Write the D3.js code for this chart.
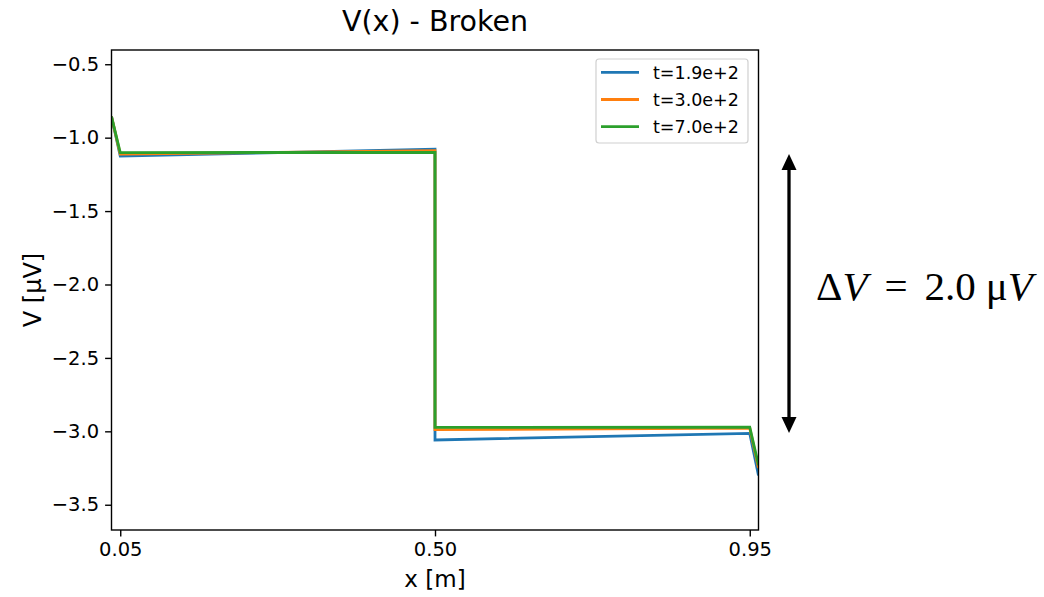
<!DOCTYPE html>
<html>
<head>
<meta charset="utf-8">
<script src="https://cdn.jsdelivr.net/npm/d3@7"></script>
<style>
  html, body { margin: 0; padding: 0; background: #fff; }
  svg { display: block; }
</style>
</head>
<body>
<svg id="chart" width="1044" height="597"></svg>
<script>
// ---- data ----
const xPositions = [0.0375, 0.05, 0.5, 0.5, 0.95, 0.9625];
const seriesNames = ["t=1.9e+2", "t=3.0e+2", "t=7.0e+2"];
const seriesBlue   = [-0.857, -1.125, -1.079, -3.059, -3.014, -3.30];
const seriesOrange = [-0.857, -1.112, -1.089, -2.989, -2.978, -3.25];
const seriesGreen  = [-0.857, -1.102, -1.100, -2.973, -2.972, -3.23];
const seriesColors = ["#1f77b4", "#ff7f0e", "#2ca02c"];
const xTicks = [0.05, 0.50, 0.95];
const yTicks = [-0.5, -1.0, -1.5, -2.0, -2.5, -3.0, -3.5];
const xDomain = [0.0375, 0.9625];
const yDomain = [-3.672, -0.403];
const titleText = "V(x) - Broken";
const xLabel = "x [m]";
const yLabel = "V [\u03bcV]";
const annotationValue = "2.0";

const SANS = "'DejaVu Sans', sans-serif";
const SERIF = "'Liberation Serif', 'DejaVu Serif', serif";

const svg = d3.select("#chart");
const plot = {left: 111.5, right: 758.5, top: 50, bottom: 530};

const x = d3.scaleLinear().domain(xDomain).range([plot.left, plot.right]);
const y = d3.scaleLinear().domain(yDomain).range([plot.bottom, plot.top]);

const allSeries = [seriesBlue, seriesOrange, seriesGreen];

svg.append("clipPath").attr("id", "clip").append("rect")
  .attr("x", plot.left).attr("y", plot.top)
  .attr("width", plot.right - plot.left).attr("height", plot.bottom - plot.top);

const line = d3.line().x((d, i) => x(xPositions[i])).y(d => y(d));

svg.append("g").attr("clip-path", "url(#clip)")
  .selectAll("path").data(allSeries).join("path")
  .attr("d", d => line(d))
  .attr("fill", "none")
  .attr("stroke", (d, i) => seriesColors[i])
  .attr("stroke-width", 2.8)
  .attr("stroke-linejoin", "miter")
  .attr("stroke-linecap", "butt");

svg.append("rect")
  .attr("x", plot.left).attr("y", plot.top)
  .attr("width", plot.right - plot.left).attr("height", plot.bottom - plot.top)
  .attr("fill", "none").attr("stroke", "#000").attr("stroke-width", 1.4);

const fmtY = v => d3.format(".1f")(v).replace("-", "\u2212");
const yAxis = d3.axisLeft(y).tickValues(yTicks).tickFormat(fmtY).tickSize(6.4).tickPadding(6);
const xAxis = d3.axisBottom(x).tickValues(xTicks).tickFormat(d3.format(".2f")).tickSize(6.4).tickPadding(6);

const gy = svg.append("g").attr("transform", `translate(${plot.left},0)`).call(yAxis);
const gx = svg.append("g").attr("transform", `translate(0,${plot.bottom})`).call(xAxis);
[gx, gy].forEach(g => {
  g.select(".domain").remove();
  g.attr("font-family", null).attr("font-size", null);
  g.selectAll(".tick line").attr("stroke", "#000").attr("stroke-width", 1.4);
  g.selectAll(".tick text").attr("fill", "#000")
    .style("font-size", "19.5px").style("font-family", SANS);
});

svg.append("text").attr("x", (plot.left + plot.right) / 2).attr("y", 31)
  .attr("text-anchor", "middle").style("font-size", "28.5px").style("font-family", SANS)
  .attr("fill", "#000").text(titleText);
svg.append("text").attr("x", (plot.left + plot.right) / 2).attr("y", 587)
  .attr("text-anchor", "middle").style("font-size", "23px").style("font-family", SANS)
  .attr("fill", "#000").text(xLabel);
svg.append("text")
  .attr("transform", `translate(41,${(plot.top + plot.bottom) / 2}) rotate(-90)`)
  .attr("text-anchor", "middle").style("font-size", "24px").style("font-family", SANS)
  .attr("fill", "#000").text(yLabel);

// legend
const lg = svg.append("g");
lg.append("rect").attr("x", 596).attr("y", 59).attr("width", 152).attr("height", 84)
  .attr("rx", 3).attr("fill", "#fff").attr("fill-opacity", 0.8)
  .attr("stroke", "#d0d0d0").attr("stroke-width", 1.2);
const rowY = [72.3, 99.5, 126.7];
seriesNames.forEach((name, i) => {
  lg.append("line").attr("x1", 601).attr("x2", 639).attr("y1", rowY[i]).attr("y2", rowY[i])
    .attr("stroke", seriesColors[i]).attr("stroke-width", 2.8);
  lg.append("text").attr("x", 653).attr("y", rowY[i]).attr("dy", "0.36em")
    .style("font-size", "17.5px").style("font-family", SANS).attr("fill", "#000").text(name);
});

// annotation: double arrow spanning the voltage drop
const ax = 789, aTop = 154, aBot = 433, head = 16, hw = 7.5;
svg.append("line").attr("x1", ax).attr("x2", ax).attr("y1", aTop + head - 2).attr("y2", aBot - head + 2)
  .attr("stroke", "#000").attr("stroke-width", 3.3);
svg.append("path").attr("d", `M${ax},${aTop} L${ax - hw},${aTop + head} L${ax + hw},${aTop + head} Z`).attr("fill", "#000");
svg.append("path").attr("d", `M${ax},${aBot} L${ax - hw},${aBot - head} L${ax + hw},${aBot - head} Z`).attr("fill", "#000");

const at = svg.append("text").attr("x", 816).attr("y", 300)
  .style("font-family", SERIF).style("font-size", "41px").attr("fill", "#000");
at.append("tspan").text("\u0394");
at.append("tspan").style("font-style", "italic").text("V");
at.append("tspan").attr("dx", 17).text("=");
at.append("tspan").attr("dx", 17).text(annotationValue);
at.append("tspan").attr("dx", 10).text("\u03bc");
at.append("tspan").style("font-style", "italic").text("V");
</script>
</body>
</html>
